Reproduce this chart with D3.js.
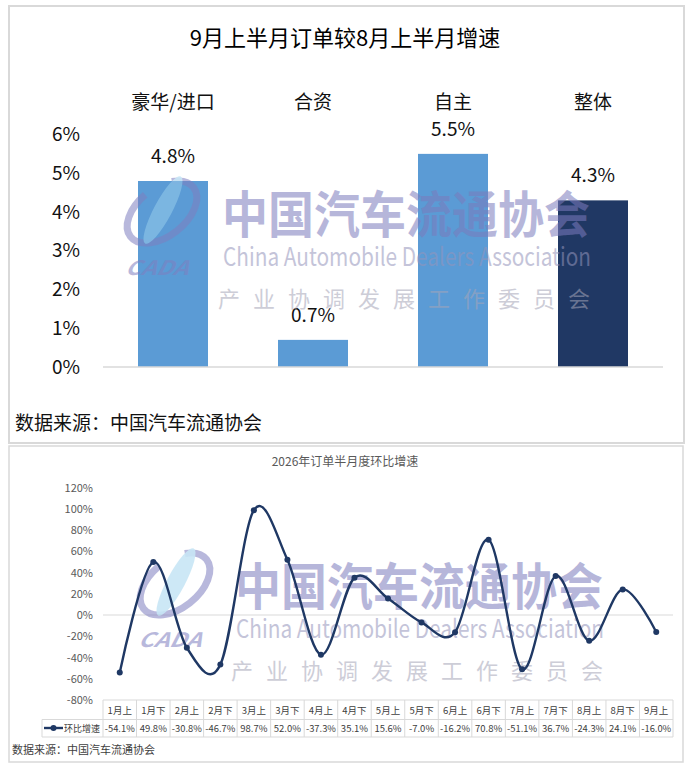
<!DOCTYPE html>
<html><head><meta charset="utf-8">
<script src="https://cdn.jsdelivr.net/npm/d3@7"></script>
<style>
body{margin:0;background:#fff}
svg{display:block}
text{font-family:"Noto Sans CJK SC","Microsoft YaHei",sans-serif}
</style>
</head><body>
<svg id="c" width="692" height="773"></svg>
<script>
// ---------- data ----------
const topTitle = "9月上半月订单较8月上半月增速";
const topCategories = ["豪华/进口", "合资", "自主", "整体"];
const topValues = [4.8, 0.7, 5.5, 4.3];
const topColors = ["#5b9bd5", "#5b9bd5", "#5b9bd5", "#203864"];
const topTicks = [0, 1, 2, 3, 4, 5, 6];
const sourceText = "数据来源：中国汽车流通协会";

const bottomTitle = "2026年订单半月度环比增速";
const periods = ["1月上","1月下","2月上","2月下","3月上","3月下","4月上","4月下","5月上","5月下","6月上","6月下","7月上","7月下","8月上","8月下","9月上"];
const growth = [-54.1, 49.8, -30.8, -46.7, 98.7, 52.0, -37.3, 35.1, 15.6, -7.0, -16.2, 70.8, -51.1, 36.7, -24.3, 24.1, -16.0];
const bottomTicks = [-80, -60, -40, -20, 0, 20, 40, 60, 80, 100, 120];
const seriesName = "环比增速";

const wmCn = "中国汽车流通协会";
const wmEn = "China Automobile Dealers Association";
const wmSub = "产业协调发展工作委员会";
const wmLogo = "CADA";

// ---------- setup ----------
const svg = d3.select("#c");
svg.append("rect").attr("width", 692).attr("height", 773).attr("fill", "#fff");

// panels
svg.append("rect").attr("x", 9).attr("y", 6).attr("width", 675).attr("height", 437)
  .attr("fill", "#fff").attr("stroke", "#d9d9d9").attr("stroke-width", 2);
svg.append("rect").attr("x", 9).attr("y", 446).attr("width", 674).attr("height", 316)
  .attr("fill", "#fff").attr("stroke", "#d9d9d9").attr("stroke-width", 1.5);

function watermark(dx, dy) {
  const g = svg.append("g").attr("transform", `translate(${dx},${dy})`).attr("pointer-events", "none");
  const lg = g.append("g").attr("opacity", 0.55);
  lg.append("ellipse").attr("cx", 162).attr("cy", 212).attr("rx", 40).attr("ry", 24)
    .attr("transform", "rotate(-38,162,212)")
    .attr("fill", "none").attr("stroke", "#7f7fc0").attr("stroke-width", 7)
    .attr("stroke-dasharray", "150,30");
  lg.append("ellipse").attr("cx", 163).attr("cy", 210).attr("rx", 9).attr("ry", 38)
    .attr("transform", "rotate(28,163,210)")
    .attr("fill", "#9cd3ee").attr("opacity", 0.9);
  lg.append("text").attr("x", 125).attr("y", 275).text(wmLogo)
    .attr("font-size", 20).attr("font-weight", 700).attr("font-style", "italic")
    .attr("textLength", 63).attr("lengthAdjust", "spacingAndGlyphs")
    .attr("transform", "skewX(-12) translate(58,0)")
    .attr("fill", "#7f7fc0");
  g.append("text").attr("x", 222).attr("y", 233).text(wmCn)
    .attr("font-size", 50).attr("font-weight", 700)
    .attr("textLength", 368).attr("lengthAdjust", "spacingAndGlyphs")
    .attr("fill", "#7b7bbd").attr("opacity", 0.55);
  g.append("text").attr("x", 223).attr("y", 266).text(wmEn)
    .attr("font-family", "Liberation Sans, Arial, sans-serif")
    .attr("font-size", 25)
    .attr("textLength", 368).attr("lengthAdjust", "spacingAndGlyphs")
    .attr("fill", "#9494bb").attr("opacity", 0.55);
  g.append("text").attr("x", 218).attr("y", 307).text(wmSub)
    .attr("font-size", 22)
    .attr("textLength", 372).attr("lengthAdjust", "spacing")
    .attr("fill", "#a5a5b8").attr("opacity", 0.55);
}

// ---------- top chart ----------
const yT = d3.scaleLinear().domain([0, 6]).range([367, 134.5]);
const xT = d3.scaleBand().domain(topCategories).range([103, 663]).paddingInner(0.5).paddingOuter(0.25);

svg.append("text").attr("x", 345).attr("y", 46).attr("text-anchor", "middle")
  .attr("font-size", 22).attr("fill", "#000").text(topTitle);

const axL = svg.append("g").attr("transform", "translate(103,0)")
  .call(d3.axisLeft(yT).tickValues(topTicks).tickFormat(d => d + "%").tickSize(0).tickPadding(23));
axL.select(".domain").remove();
axL.selectAll("text").attr("font-size", 19).attr("fill", "#111").attr("font-family", "Noto Sans CJK SC, sans-serif");

const axT = svg.append("g").attr("transform", "translate(0,109)")
  .call(d3.axisTop(xT).tickSize(0).tickPadding(0));
axT.select(".domain").remove();
axT.selectAll("text").attr("font-size", 19).attr("fill", "#111").attr("font-family", "Noto Sans CJK SC, sans-serif");

svg.append("g").selectAll("rect").data(topValues).join("rect")
  .attr("x", (d, i) => xT(topCategories[i]))
  .attr("width", xT.bandwidth())
  .attr("y", d => yT(d))
  .attr("height", d => yT(0) - yT(d))
  .attr("fill", (d, i) => topColors[i]);

svg.append("line").attr("x1", 103).attr("x2", 663).attr("y1", yT(0)).attr("y2", yT(0))
  .attr("stroke", "#d9d9d9").attr("stroke-width", 1.5);

svg.append("g").selectAll("text").data(topValues).join("text")
  .attr("x", (d, i) => xT(topCategories[i]) + xT.bandwidth() / 2)
  .attr("y", d => yT(d) - 18)
  .attr("text-anchor", "middle").attr("font-size", 19).attr("fill", "#111")
  .text(d => d.toFixed(1) + "%");

svg.append("text").attr("x", 15).attr("y", 430).attr("font-size", 19).attr("fill", "#111").text(sourceText);

watermark(0, 0);

// ---------- bottom chart ----------
const xB = d3.scaleBand().domain(periods).range([103, 673]);
const yB = d3.scaleLinear().domain([-80, 120]).range([700, 487.5]);

svg.append("text").attr("x", 345).attr("y", 466).attr("text-anchor", "middle")
  .attr("font-size", 12).attr("fill", "#595959").text(bottomTitle);

const axB = svg.append("g").attr("transform", "translate(103,0)")
  .call(d3.axisLeft(yB).tickValues(bottomTicks).tickFormat(d => d + "%").tickSize(0).tickPadding(10));
axB.select(".domain").remove();
axB.selectAll("text").attr("font-size", 11).attr("fill", "#595959").attr("font-family", "Noto Sans CJK SC, sans-serif");

svg.append("line").attr("x1", 103).attr("x2", 673).attr("y1", yB(0)).attr("y2", yB(0))
  .attr("stroke", "#d9d9d9").attr("stroke-width", 1);

watermark(13, 372);

const cx = p => xB(p) + xB.bandwidth() / 2;
const lineGen = d3.line().x((d, i) => cx(periods[i])).y(d => yB(d)).curve(d3.curveCatmullRom.alpha(0));
svg.append("path").datum(growth).attr("d", lineGen)
  .attr("fill", "none").attr("stroke", "#1f3864").attr("stroke-width", 2.4);
svg.append("g").selectAll("circle").data(growth).join("circle")
  .attr("cx", (d, i) => cx(periods[i])).attr("cy", d => yB(d)).attr("r", 3)
  .attr("fill", "#1f3864");

// data table
const tTop = 700, tMid = 719.5, tBot = 737, legL = 42;
const tg = svg.append("g").attr("stroke", "#d9d9d9").attr("stroke-width", 1);
tg.append("line").attr("x1", 103).attr("x2", 673).attr("y1", tTop).attr("y2", tTop);
tg.append("line").attr("x1", legL).attr("x2", 673).attr("y1", tMid).attr("y2", tMid);
tg.append("line").attr("x1", legL).attr("x2", 673).attr("y1", tBot).attr("y2", tBot);
tg.append("line").attr("x1", legL).attr("x2", legL).attr("y1", tMid).attr("y2", tBot);
tg.selectAll("line.v").data(periods.concat(["_end"])).join("line").attr("class", "v")
  .attr("x1", (p, i) => i < periods.length ? xB(p) : 673)
  .attr("x2", (p, i) => i < periods.length ? xB(p) : 673)
  .attr("y1", tTop).attr("y2", tBot);

const tableFont = 9.5;
svg.append("g").selectAll("text").data(periods).join("text")
  .attr("x", p => cx(p)).attr("y", 713.5).attr("text-anchor", "middle")
  .attr("font-size", tableFont).attr("fill", "#404040").text(p => p);
svg.append("g").selectAll("text").data(growth).join("text")
  .attr("x", (d, i) => cx(periods[i])).attr("y", 731.5).attr("text-anchor", "middle")
  .attr("font-size", tableFont).attr("fill", "#404040").text(d => d.toFixed(1) + "%")
  .each(function () {
    const w = this.getComputedTextLength();
    if (w > 30) d3.select(this).attr("textLength", 30).attr("lengthAdjust", "spacingAndGlyphs");
  });

svg.append("line").attr("x1", 44).attr("x2", 63).attr("y1", 728).attr("y2", 728)
  .attr("stroke", "#1f3864").attr("stroke-width", 2.4);
svg.append("circle").attr("cx", 53.5).attr("cy", 728).attr("r", 3).attr("fill", "#1f3864");
svg.append("text").attr("x", 64).attr("y", 731.5).attr("font-size", tableFont).attr("fill", "#404040")
  .attr("textLength", 36).attr("lengthAdjust", "spacingAndGlyphs").text(seriesName);

svg.append("text").attr("x", 12).attr("y", 754).attr("font-size", 11).attr("fill", "#404040").text(sourceText);
</script>
</body></html>
